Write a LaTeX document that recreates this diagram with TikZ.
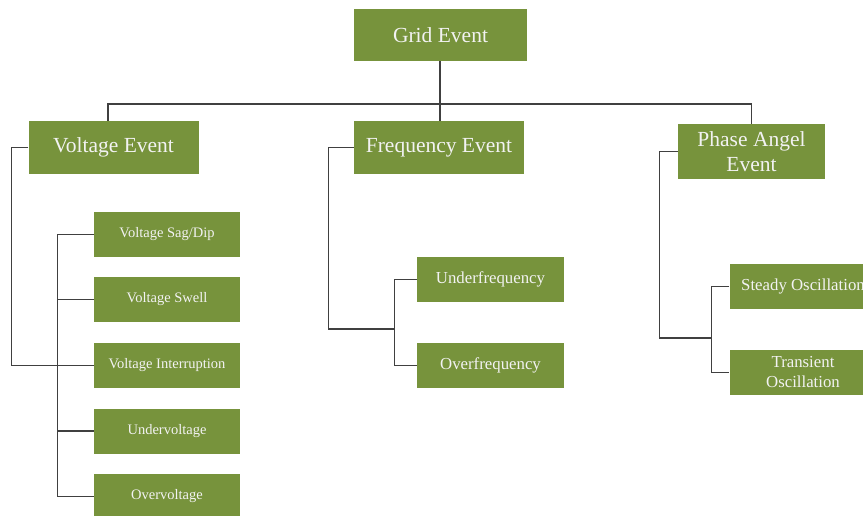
\documentclass[tikz,border=0pt]{standalone}
\usepackage{fontspec}
\setmainfont{Liberation Serif}
\definecolor{evgreen}{HTML}{77933C}
\definecolor{evtext}{HTML}{F2F2F2}
\definecolor{linegray}{HTML}{404040}
\begin{document}
\begin{tikzpicture}[x=1pt,y=-1pt,
  box/.style={fill=evgreen, text=evtext, inner sep=0pt, align=center},
  head/.style={box, font=\fontsize{21.5}{25}\selectfont},
  subl/.style={box, font=\fontsize{14.5}{17}\selectfont, minimum width=146pt, minimum height=45pt},
  subr/.style={box, font=\fontsize{16.8}{20}\selectfont, minimum width=147pt, minimum height=45pt},
  link/.style={draw=linegray, line width=1.3pt}]
\useasboundingbox (0,0) rectangle (863,515);

% top level
\node[head, minimum width=173pt, minimum height=52pt] (grid) at (440.5,35) {Grid Event};
\node[head, minimum width=170pt, minimum height=53pt] (volt) at (113.5,147.5) {Voltage Event};
\node[head, minimum width=170pt, minimum height=53pt] (freq) at (439,147.5) {Frequency Event};
\node[head, minimum width=147pt, minimum height=55pt] (phase) at (751.5,151.5) {Phase Angel\\Event};

% voltage branch
\node[subl] (sag)   at (167,234.5) {Voltage Sag/Dip};
\node[subl] (swell) at (167,299.5) {Voltage Swell};
\node[subl] (intr)  at (167,365.5) {Voltage Interruption};
\node[subl] (uv)    at (167,431)   {Undervoltage};
\node[subl] (ov)    at (167,496.5) {Overvoltage};

% frequency branch
\node[subr] (uf) at (490.5,279.5) {Underfrequency};
\node[subr] (of) at (490.5,365.5) {Overfrequency};

% phase angle branch
\node[subr] (steady) at (803,286.5) {Steady Oscillation};
\node[subr] (trans)  at (803,372.5) {Transient\\Oscillation};

% bus below the root
\coordinate (bus) at (440,104);
\draw[link] ([xshift=-0.5pt]grid.south) -- ([xshift=-0.5pt]grid.south |- freq.north);
\draw[link] ([xshift=-5.5pt]volt.north) |- (bus) -| (phase.north);

% voltage tree
\draw[link] (volt.west) -- ++(-17,0) |- (intr.west);
\draw[link] (sag.west) -- ++(-36,0) |- (ov.west);
\draw[link] (swell.west) -- ++(-36,0);
\draw[link] (uv.west) -- ++(-36,0);

% frequency tree
\coordinate (fjoin) at (395,329);
\draw[link] (freq.west) -- ++(-25,0) |- (fjoin);
\draw[link] (uf.west) -- ++(-22,0) |- (of.west);

% phase tree
\coordinate (pjoin) at (712,338);
\draw[link] (phase.west) -- ++(-18,0) |- (pjoin);
\draw[link] (steady.west) -- ++(-18,0) |- (trans.west);
\end{tikzpicture}
\end{document}
